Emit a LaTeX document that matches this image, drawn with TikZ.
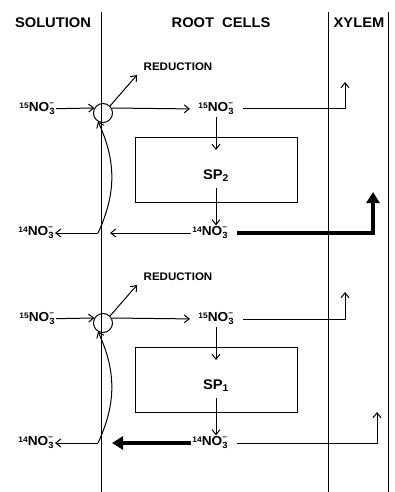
\documentclass[tikz,border=0pt]{standalone}
\usepackage{fontspec}
\setmainfont[FakeStretch=1.05]{Liberation Sans}
\usetikzlibrary{arrows.meta}
\newcommand{\nitro}[1]{\raisebox{3.5pt}{\fontsize{8}{8}\selectfont #1}NO%
    \rlap{\raisebox{6.5pt}{\fontsize{8}{8}\selectfont --}}%
    \raisebox{-3pt}{\fontsize{9}{9}\selectfont 3}}
\begin{document}
\begin{tikzpicture}[x=1pt,y=-1pt,>={Straight Barb[length=5pt,width=8pt]},line width=1pt]
    \tikzset{
        zone/.style={font=\bfseries\fontsize{14}{16}\selectfont},
        ion/.style={font=\bfseries\fontsize{13}{15}\selectfont,inner sep=1pt},
        gate/.style={draw,circle,minimum size=19pt,inner sep=0pt},
        pool/.style={draw,minimum width=162pt,minimum height=65pt},
        note/.style={font=\bfseries\fontsize{11}{13}\selectfont},
        flow/.style={->},
        bulk/.style={-{Triangle[length=11pt,width=13pt]},line width=4.5pt}
    }
    \useasboundingbox (0,0) rectangle (395,492);

    % compartment walls
    \foreach \x in {101,328,388}
        \draw (\x,12) -- (\x,492);

    \node[zone] (sol) at (53,23) {SOLUTION};
    \node[zone] (root) at (221,23) {ROOT\hspace{8pt}CELLS};
    \node[zone] (xyl) at (359,23) {XYLEM};

    \foreach \s/\dy/\k in {A/0/2,B/210/1}{
        \node[ion] (s15\s) at (37,109+\dy) {\nitro{15}};
        \node[gate] (gate\s) at (103,113+\dy) {};
        \node[note] (red\s) at (178,67+\dy) {REDUCTION};
        \node[ion] (r15\s) at (216,109+\dy) {\nitro{15}};
        \node[pool] (pool\s) at (216,170+\dy) {};
        \node[zone] (sp\s) at (216,176+\dy) {SP\textsubscript{\k}};
        \node[ion] (r14\s) at (210,233+\dy) {\nitro{14}};
        \node[ion] (s14\s) at (36,233+\dy) {\nitro{14}};

        \coordinate (tip\s) at (137,75+\dy);
        \coordinate (in\s) at (216,150+\dy);
        \coordinate (out\s) at (216,188+\dy);
        \coordinate (wall\s) at (98,233+\dy);
        \coordinate (up\s) at (345,82+\dy);

        \draw[flow] (s15\s) -- (gate\s.150);
        \draw[flow] (gate\s.45) -- (tip\s);
        \draw[flow,shorten >=7pt] (gate\s.30) -- (r15\s.west);
        \draw[flow,shorten <=8pt] (r15\s.east) -| (up\s);
        \draw[flow] (r15\s.south) -- (in\s);
        \draw[flow] (out\s) -- (out\s |- r14\s.north);
        \draw[flow] (wall\s) -- (s14\s.east);
        \draw[flow] (wall\s) to[bend right=25] (gate\s.240);
    }

    % upper pool: export to xylem
    \coordinate (hitA) at (110,233);
    \coordinate (lift) at (373,192);
    \draw[flow] (r14A.west) -- (hitA);
    \draw[bulk,shorten <=8pt] (r14A.east) -| (lift);

    % lower pool: efflux to solution
    \coordinate (hitB) at (112,443);
    \coordinate (riseB) at (377,412);
    \draw[bulk] (r14B.west) -- (hitB);
    \draw[flow,shorten <=8pt] (r14B.east) -| (riseB);
\end{tikzpicture}
\end{document}
